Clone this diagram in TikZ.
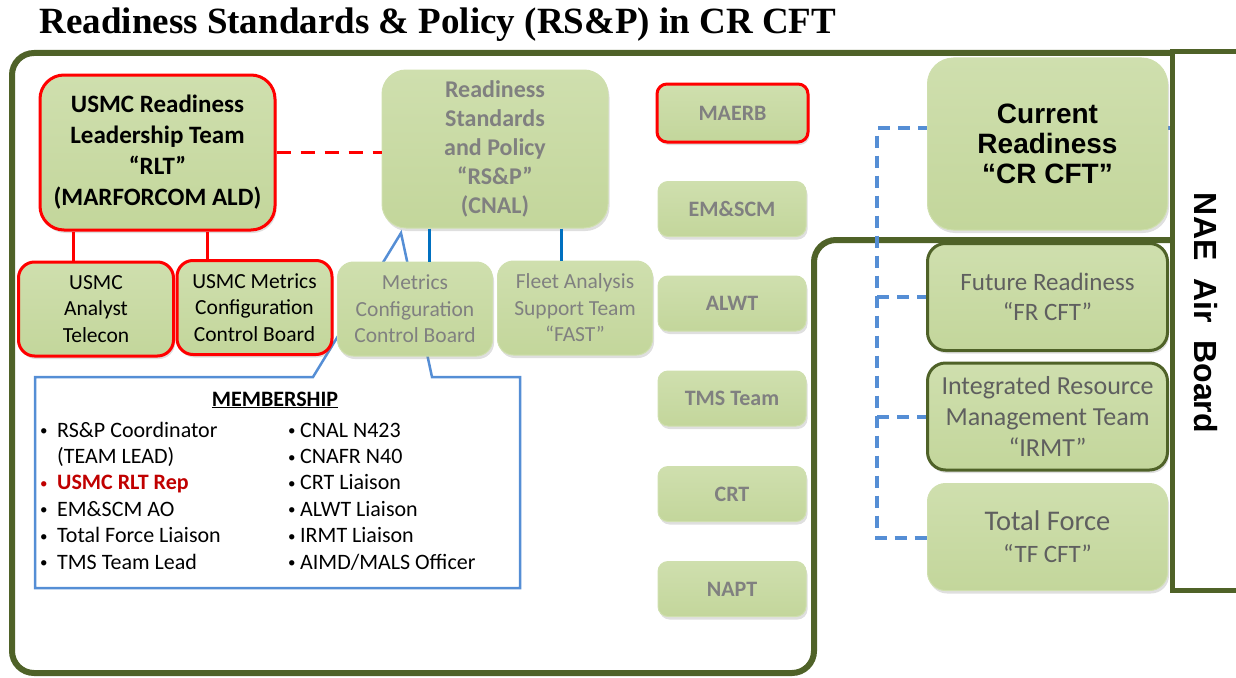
\documentclass[tikz,border=0pt]{standalone}
\usepackage{fontspec}
\setmainfont{Carlito}
\newfontfamily\arialf{Liberation Sans}
\newfontfamily\titlef{Liberation Serif}
\usepackage{tikz}
\usetikzlibrary{shadows,backgrounds}

\definecolor{boxgreen}{RGB}{195,214,155}
\definecolor{boxlight}{RGB}{207,223,174}
\definecolor{frmgreen}{RGB}{79,98,40}
\definecolor{lnblue}{RGB}{0,112,192}
\definecolor{dashblue}{RGB}{85,142,213}
\definecolor{txtgray}{RGB}{128,128,128}
\definecolor{frgray}{RGB}{95,95,95}
\definecolor{reprred}{RGB}{192,0,0}
\newcommand\membul{\raisebox{1.5pt}{\fontsize{15}{15}\selectfont\textbullet}}

\begin{document}
\begin{tikzpicture}[
  x=1pt, y=-1pt,
  box/.style={
    rectangle, rounded corners=14pt, align=center, inner sep=0pt,
    top color=boxlight, bottom color=boxgreen, draw=boxlight, line width=1pt,
    drop shadow={opacity=0.25, shadow xshift=1.5pt, shadow yshift=-3pt}
  },
  redbox/.style={draw=red, line width=3pt},
  grnbox/.style={draw=frmgreen, line width=3pt},
  sidebox/.style={
    minimum width=148pt, minimum height=55pt, rounded corners=10pt,
    text=txtgray, font=\fontsize{22}{26}\selectfont\bfseries
  },
  smallbox/.style={
    minimum width=155pt, minimum height=94pt, rounded corners=16pt,
    font=\fontsize{21.5}{26.5}\selectfont
  },
  cftbox/.style={minimum width=240pt, minimum height=107pt, rounded corners=18pt, text=frgray},
  redln/.style={draw=red, line width=3pt},
  blueln/.style={draw=lnblue, line width=3pt},
  bluedash/.style={draw=dashblue, line width=4pt, dash pattern=on 12pt off 8pt},
  frame/.style={draw=frmgreen, line width=6pt, rounded corners=22pt}
]
  \path[use as bounding box, clip] (0,0) rectangle (1236,677);

  \node[anchor=west, font=\titlef\fontsize{37}{40}\selectfont\bfseries] (title) at (36,25)
    {Readiness Standards \& Policy (RS\&P) in CR CFT};

  % left group
  \node[box, redbox, minimum width=235pt, minimum height=155pt, rounded corners=24pt,
    font=\fontsize{25}{31}\selectfont\bfseries] (rlt) at (157.5,152.5)
    {USMC Readiness\\Leadership Team\\“RLT”\\(MARFORCOM ALD)};
  \node[box, minimum width=226pt, minimum height=158pt, rounded corners=24pt, text=txtgray,
    font=\fontsize{24}{29}\selectfont\bfseries] (rsp) at (495,149)
    {Readiness\\Standards\\and Policy\\“RS\&P”\\(CNAL)};
  \node[box, redbox, smallbox] (analyst) at (96,309) {USMC\\Analyst\\Telecon};
  \node[box, redbox, smallbox] (usmcccb) at (254.5,307.5) {USMC Metrics\\Configuration\\Control Board};
  \node[box, smallbox, text=txtgray] (ccb) at (415,309) {Metrics\\Configuration\\Control Board};
  \node[box, smallbox, text=txtgray] (fast) at (575,308) {Fleet Analysis\\Support Team\\“FAST”};

  % middle column
  \node[box, redbox, sidebox, minimum width=151pt, minimum height=58pt] (maerb) at (732.5,113) {MAERB};
  \foreach \nm/\y/\txt in {emscm/209/EM\&SCM, alwt/303.5/ALWT, tms/398.5/TMS Team,
      crt/494/CRT, napt/589/NAPT} {
    \node[box, sidebox] (\nm) at (732,\y) {\txt};
  }

  % right group
  \node[box, minimum width=240pt, minimum height=172pt, rounded corners=26pt,
    font=\arialf\fontsize{28}{30}\selectfont\bfseries] (crcft) at (1047.5,144)
    {Current\\Readiness\\“CR CFT”};
  \node[box, grnbox, cftbox, font=\fontsize{25}{30}\selectfont] (frcft) at (1047.5,297)
    {Future Readiness\\“FR CFT”};
  \node[box, grnbox, cftbox, font=\fontsize{26}{31}\selectfont] (irmt) at (1047.5,416.5)
    {Integrated Resource\\Management Team\\“IRMT”};
  \node[box, cftbox, font=\fontsize{28.5}{32}\selectfont] (tfcft) at (1047.5,537)
    {Total Force\\{\fontsize{25}{32}\selectfont “TF CFT”}};

  \node[draw=frmgreen, line width=5pt, fill=white, minimum width=70pt, minimum height=538pt,
    inner sep=0pt] (nae) at (1207,321) {};
  \node[rotate=-90, font=\arialf\fontsize{32}{36}\selectfont\bfseries] (naetxt) at (1206,313)
    {NAE\ \ Air\ \ Board};

  % membership
  \node[font=\fontsize{22}{26}\selectfont\bfseries] (memhead) at (275,400) {\underline{MEMBERSHIP}};
  \node[anchor=north west, inner sep=0pt, font=\fontsize{22}{26.4}\selectfont] (members) at (40,418.5) {%
    \begin{tabular}{@{}p{17pt}@{}p{231pt}@{}p{12pt}@{}l@{}}
      \membul & RS\&P Coordinator & \membul & CNAL N423\\
              & (TEAM LEAD)       & \membul & CNAFR N40\\
      \textcolor{reprred}{\membul} & \textcolor{reprred}{\bfseries USMC RLT Rep} & \membul & CRT Liaison\\
      \membul & EM\&SCM AO        & \membul & ALWT Liaison\\
      \membul & Total Force Liaison & \membul & IRMT Liaison\\
      \membul & TMS Team Lead     & \membul & AIMD/MALS Officer
    \end{tabular}};

  % connectors
  \coordinate (r1) at ([xshift=35pt]rlt.south west);
  \coordinate (r2) at ([xshift=169pt]rlt.south west);
  \draw[redln] (r1) -- (r1 |- analyst.north);
  \draw[redln] (r2) -- (r2 |- usmcccb.north);
  \draw[redln, dash pattern=on 14pt off 10pt] (rlt.east) -- (rlt.east -| rsp.west);
  \coordinate (b1) at ([xshift=48pt]rsp.south west);
  \coordinate (b2) at ([xshift=180pt]rsp.south west);
  \draw[blueln] (b1) -- (b1 |- ccb.north);
  \draw[blueln] (b2) -- (b2 |- fast.north);

  \begin{scope}[on background layer]
    \draw[frame] (1172,240) -- (814,240) -- (814,673) -- (12,673) -- (12,53) -- (1240,53);
    \coordinate (tip) at (401,233);
    \draw[dashblue, line width=2.5pt] (35,377) -- (313,377) -- (tip) -- (432,377)
      -- (520,377) -- (520,588) -- (35,588) -- cycle;
    \coordinate (bustop) at (877,128);
    \coordinate (busbot) at (877,538);
    \draw[bluedash] (bustop -| nae.west) -- (bustop) -- (busbot) -- (busbot -| nae.west);
    \foreach \b in {frcft,irmt}
      \draw[bluedash] (\b.west -| bustop) -- (\b.west -| nae.west);
  \end{scope}
\end{tikzpicture}
\end{document}
